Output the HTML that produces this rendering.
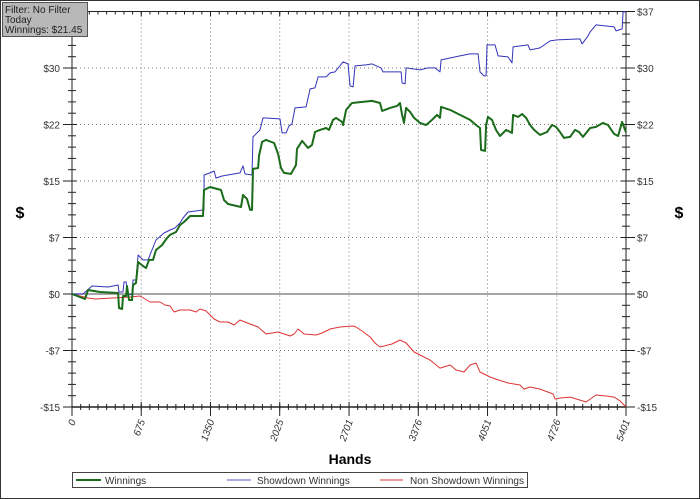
<!DOCTYPE html>
<html><head><meta charset="utf-8"><style>
body{margin:0;background:#fff;}
svg{display:block;font-family:"Liberation Sans",sans-serif;}
</style></head><body>
<svg id="c" width="700" height="499" viewBox="0 0 700 499">
<rect x="0.5" y="0.5" width="699" height="498" fill="#fff" stroke="#333"/>
<g id="grid"></g><g id="axes"></g><g id="series"></g>
<g>
<rect x="2.5" y="2.5" width="85" height="34" fill="#b8b8b8" stroke="#555"/>
<text x="5" y="13" font-size="10" fill="#222">Filter: No Filter</text>
<text x="5" y="23" font-size="10" fill="#222">Today</text>
<text x="5" y="33" font-size="10" fill="#222">Winnings: $21.45</text>
</g>
<text x="20" y="218" font-size="16" font-weight="bold" text-anchor="middle">$</text>
<text x="679" y="218" font-size="16" font-weight="bold" text-anchor="middle">$</text>
<text x="350" y="464" font-size="14" font-weight="bold" text-anchor="middle">Hands</text>
<g>
<rect x="72.5" y="472.5" width="455" height="15" fill="#fff" stroke="#444"/>
<g><line x1="76" x2="101" y1="480" y2="480" stroke="#1a6b1a" stroke-width="2"/><text x="105" y="484" font-size="10" fill="#333">Winnings</text></g>
<g><line x1="227" x2="251" y1="480" y2="480" stroke="#5555cc"/><text x="257" y="484" font-size="10" fill="#333">Showdown Winnings</text></g>
<g><line x1="380" x2="403" y1="480" y2="480" stroke="#dd3333"/><text x="410" y="484" font-size="10" fill="#333">Non Showdown Winnings</text></g>
</g>
</svg>
<script>
const xTicks=[0,675,1350,2025,2701,3376,4051,4726,5401];
const yTicks=[37.5,30,22.5,15,7.5,0,-7.5,-15];
const yTickLabels=["$37","$30","$22","$15","$7","$0","-$7","-$15"];
const winHands=[0,127,156,273,449,458,488,497,527,536,556,585,595,624,644,692,722,751,790,819,878,926,956,1014,1053,1092,1151,1277,1287,1346,1453,1482,1521,1648,1667,1706,1736,1755,1765,1814,1823,1853,1892,1970,2009,2038,2067,2135,2184,2194,2243,2301,2340,2369,2418,2477,2506,2545,2574,2633,2642,2672,2730,2925,3003,3023,3101,3169,3198,3218,3237,3257,3296,3335,3393,3452,3510,3559,3588,3598,3686,3783,3881,3939,3978,3988,4027,4037,4056,4095,4134,4173,4232,4290,4300,4349,4388,4427,4466,4505,4563,4631,4680,4719,4758,4797,4856,4904,4943,4982,5051,5109,5177,5226,5285,5324,5363,5401];
const winValues=[0,-0.66,0.53,0.27,0.13,-1.86,-1.99,-0.27,-0.27,1.06,-0.8,-0.8,1.2,1.46,4.25,3.72,3.45,4.52,4.52,5.84,6.51,7.44,7.84,8.23,9.16,9.56,10.36,10.36,13.81,14.21,13.81,12.48,11.95,11.55,13.15,12.62,11.16,11.16,16.6,16.73,18.33,20.19,20.45,20.05,18.59,16.73,16.07,15.94,17.13,19.26,20.32,19.39,19.79,21.51,21.78,22.04,21.78,23.11,23.37,22.84,22.44,24.44,25.36,25.63,25.36,24.3,24.7,24.97,25.36,23.77,22.71,24.7,24.17,23.37,22.71,22.44,23.11,23.77,23.37,24.83,24.44,23.77,23.11,22.44,22.04,19.12,18.99,22.44,23.51,23.11,21.78,20.98,21.78,21.38,23.77,23.51,23.9,23.37,22.44,21.78,21.12,21.51,22.44,22.18,21.51,20.72,20.85,21.78,21.51,20.85,22.04,22.18,22.71,22.44,21.25,20.98,22.84,21.45];
const sdHands=[0,107,195,351,449,458,497,507,527,546,585,595,624,644,692,741,780,819,897,956,1004,1053,1082,1131,1287,1288,1346,1385,1404,1463,1638,1667,1687,1755,1765,1833,1862,2028,2048,2087,2116,2145,2174,2282,2321,2369,2399,2477,2516,2564,2642,2691,2711,2740,2759,2867,2925,3013,3032,3208,3218,3247,3257,3393,3471,3539,3588,3598,3783,3881,3959,3978,4017,4037,4046,4124,4154,4251,4290,4300,4446,4466,4563,4661,4729,4953,4973,5031,5051,5109,5285,5304,5363,5373,5401];
const sdValues=[0,0,1.06,0.93,1.2,0.27,0.27,1.59,1.59,-0.13,0,1.86,1.86,5.18,4.52,4.52,5.84,7.17,8.1,8.5,8.77,9.43,10.09,10.89,11.16,15.8,16.07,16.33,15.4,15.67,16.07,17,15.94,15.8,20.85,21.78,23.37,23.24,21.38,21.38,22.31,22.58,24.7,24.83,27.22,27.36,28.82,28.82,29.35,29.48,30.81,30.54,27.62,27.49,30.28,30.41,30.54,30.01,29.48,29.48,28.02,27.89,30.01,29.75,30.01,30.01,29.48,31.08,31.61,31.87,31.87,29.48,28.95,28.95,33.07,33.07,31.61,31.47,30.68,32.8,33.07,32.4,32.67,33.6,33.73,33.86,33.2,34.26,34.79,35.72,35.46,34.93,35.19,37.45,37.45];
const nsdHands=[0,156,224,566,663,712,761,858,907,956,995,1053,1151,1209,1248,1307,1385,1443,1521,1580,1638,1736,1814,1892,2009,2126,2165,2204,2262,2379,2438,2516,2613,2740,2769,2828,2906,2954,3003,3120,3198,3257,3335,3393,3491,3588,3686,3744,3822,3881,3939,3978,4076,4134,4251,4368,4407,4466,4563,4690,4709,4758,4856,4953,5012,5109,5207,5285,5343,5382,5401];
const nsdValues=[0,-0.53,-0.66,-0.4,-0.27,-0.66,-1.06,-1.06,-1.46,-1.59,-2.39,-2.12,-2.12,-2.39,-1.99,-2.26,-3.32,-3.72,-3.72,-4.12,-3.45,-3.98,-4.38,-5.31,-5.05,-5.58,-5.31,-4.65,-5.31,-5.44,-5.18,-4.65,-4.38,-4.25,-4.38,-4.91,-5.71,-6.51,-7.04,-6.64,-6.11,-6.51,-7.7,-8.1,-8.77,-9.83,-9.43,-10.09,-10.36,-9.43,-9.16,-10.36,-11.02,-11.29,-11.82,-12.08,-12.62,-12.35,-12.62,-13.28,-13.94,-13.81,-13.68,-14.08,-14.34,-13.41,-13.54,-13.68,-14.21,-14.74,-15];

const X0=72,X1=626,Y0=407,Y1=11.5,XMAX=5401,YMIN=-15,YMAX=37.5;
const NS='http://www.w3.org/2000/svg';
function sx(v){return X0+(v/XMAX)*(X1-X0);}
function sy(v){return Y0-(v-YMIN)/(YMAX-YMIN)*(Y0-Y1);}
function mk(tag,attrs,parent){const e=document.createElementNS(NS,tag);for(const k in attrs)e.setAttribute(k,attrs[k]);parent.appendChild(e);return e;}
const grid=document.getElementById('grid'),axes=document.getElementById('axes'),ser=document.getElementById('series');
xTicks.forEach((t,i)=>{
  const x=sx(t);
  if(i>0&&i<xTicks.length-1){const g=mk('line',{x1:x,x2:x,y1:Y1,y2:Y0,stroke:'#777','stroke-dasharray':'1,3'},grid);
  
  }
  mk('line',{x1:x,x2:x,y1:Y0-5,y2:Y0+9,stroke:'#222'},axes);
  mk('line',{x1:x,x2:x,y1:Y1,y2:Y1+5,stroke:'#222'},axes);
  const tx=mk('text',{x:x+4,y:Y0+14,'font-size':'10','font-style':'italic',fill:'#333','text-anchor':'end',transform:'rotate(-70 '+(x+4)+' '+(Y0+14)+')'},axes);
  tx.textContent=String(t);
  
  
});
for(let k=0;k<8*8;k++){const x=X0+k*(X1-X0)/64;mk('line',{x1:x,x2:x,y1:Y0-3,y2:Y0+3,stroke:'#222'},axes);mk('line',{x1:x,x2:x,y1:Y1,y2:Y1+3,stroke:'#222'},axes);}
yTicks.forEach((t,i)=>{
  const y=sy(t);
  if(t!==0&&i>0&&i<yTicks.length-1){const g=mk('line',{x1:X0,x2:X1,y1:y,y2:y,stroke:'#777','stroke-dasharray':'1,3'},grid);
  
  }
  mk('line',{x1:X0-9,x2:X0+5,y1:y,y2:y,stroke:'#222'},axes);
  mk('line',{x1:X1-5,x2:X1+9,y1:y,y2:y,stroke:'#222'},axes);
  const l=mk('text',{x:X0-12,y:y+4,'font-size':'10',fill:'#333','text-anchor':'end'},axes);l.textContent=yTickLabels[i];
  
  
  const r=mk('text',{x:X1+11,y:y+4,'font-size':'10',fill:'#333'},axes);r.textContent=yTickLabels[i];
  
  
});
for(let k=0;k<=35;k++){const y=Y0-k*(Y0-Y1)/35;mk('line',{x1:X0-4,x2:X0+4,y1:y,y2:y,stroke:'#222'},axes);mk('line',{x1:X1-4,x2:X1+4,y1:y,y2:y,stroke:'#222'},axes);}
const zl=mk('line',{x1:X0,x2:X1,y1:sy(0),y2:sy(0),stroke:'#888','stroke-width':'1.5'},axes);


mk('line',{x1:X0,x2:X0,y1:Y1,y2:Y0,stroke:'#222'},axes);
mk('line',{x1:X1,x2:X1,y1:Y1,y2:Y0,stroke:'#222'},axes);
mk('line',{x1:X0,x2:X1,y1:Y0,y2:Y0,stroke:'#222','stroke-width':'1.5'},axes);
mk('line',{x1:X0,x2:X1,y1:Y1,y2:Y1,stroke:'#222'},axes);
function line(h,v,color,w){return mk('polyline',{points:h.map((x,i)=>sx(x).toFixed(1)+','+sy(v[i]).toFixed(1)).join(' '),fill:'none',stroke:color,'stroke-width':w,'stroke-linejoin':'round'},ser);}
const p3=line(nsdHands,nsdValues,'#dd3333',1);


const p2=line(sdHands,sdValues,'#3333bb',1);


const p1=line(winHands,winValues,'#1a6b1a',2);


</script>
</body></html>
